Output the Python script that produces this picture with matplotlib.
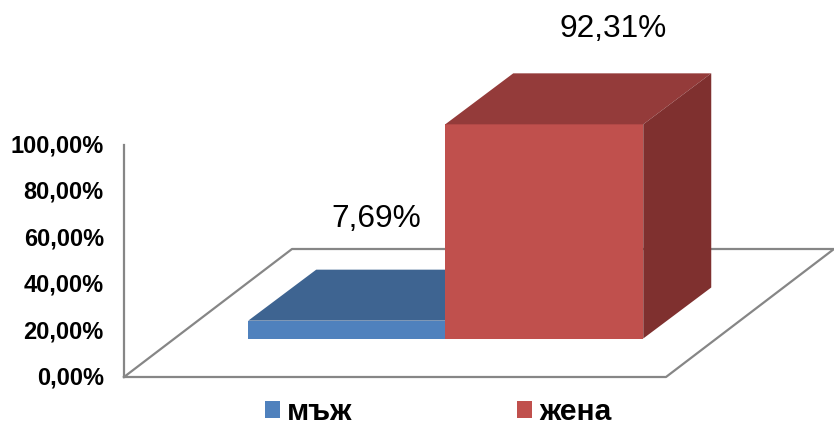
import matplotlib
matplotlib.use('Agg')
import matplotlib.pyplot as plt
from matplotlib.patches import Polygon
from matplotlib.ticker import FuncFormatter
from matplotlib.transforms import Affine2D, ScaledTranslation

# Data
categories = ['мъж', 'жена']
percent = [7.69, 92.31]
y_ticks = [0, 20, 40, 60, 80, 100]

# Colours: front, top, side
front_colors = ['#4F81BD', '#C0504D']
top_colors = ['#3E6491', '#943B3A']
side_colors = ['#2F4C6F', '#7F302F']
grey = '#868686'

W, H = 834, 423
plt.rcParams['font.family'] = ['Liberation Sans', 'DejaVu Sans']

fig = plt.figure(figsize=(W / 100, H / 100), dpi=100)
# front plane of the value axis, in pixels from the picture
ax = fig.add_axes([124 / W, (H - 377) / H, 542 / W, 232 / H])
ax.set_xlim(-1.133, 1.618)
ax.set_ylim(0, 100)
ax.patch.set_alpha(0)

def fmt(v):
    return f'{v:.2f}%'.replace('.', ',')

# oblique offsets, pixels
bar_trans = ax.transData + Affine2D().translate(0, 38.5)
depth = (68, 51)
floor_depth = (168, 128)

# floor outline
front_left = ax.transAxes.transform((0, 0))
front_right = ax.transAxes.transform((1, 0))
back_left = front_left + floor_depth
back_right = front_right + floor_depth
floor_pts = [front_left, back_left, back_right, front_right, front_left]
fig.add_artist(plt.Line2D([p[0] for p in floor_pts], [p[1] for p in floor_pts],
                          transform=None, color=grey, lw=1.6, zorder=0))

# bars with their top and side faces
bar_width = 1.005
bars = []
for i, (name, v) in enumerate(zip(categories, percent)):
    bar = ax.bar(i, v, width=bar_width, color=front_colors[i], label=name,
                 transform=bar_trans, clip_on=False, zorder=2 + i)[0]
    bars.append(bar)
    x0, x1 = i - bar_width / 2, i + bar_width / 2
    depth_trans = bar_trans + Affine2D().translate(depth[0], depth[1])
    # top face
    a = bar_trans.transform([(x0, v), (x1, v)])
    b = depth_trans.transform([(x1, v), (x0, v)])
    ax.add_patch(Polygon([a[0], a[1], b[0], b[1]], closed=True, transform=None,
                         facecolor=top_colors[i], edgecolor='none', clip_on=False, zorder=2 + i))
    # side face
    c = bar_trans.transform([(x1, 0), (x1, v)])
    d = depth_trans.transform([(x1, v), (x1, 0)])
    ax.add_patch(Polygon([c[0], c[1], d[0], d[1]], closed=True, transform=None,
                         facecolor=side_colors[i], edgecolor='none', clip_on=False, zorder=2 + i))

# value axis
for s in ['top', 'right', 'bottom']:
    ax.spines[s].set_visible(False)
ax.spines['left'].set_color(grey)
ax.spines['left'].set_linewidth(1.6)
ax.set_xticks([])
ax.set_yticks(y_ticks)
ax.yaxis.set_major_formatter(FuncFormatter(lambda v, _: fmt(v)))
ax.tick_params(axis='y', length=0, pad=14.5, labelsize=17)
label_up = ScaledTranslation(0, 1.5 / 100, fig.dpi_scale_trans)
for t in ax.get_yticklabels():
    t.set_fontweight('bold')
    t.set_transform(t.get_transform() + label_up)

# data labels
label_xy = [(376, 219), (613, 29)]
for v, (px, py) in zip(percent, label_xy):
    fig.text(px / W, 1 - py / H, fmt(v), fontsize=22.8, ha='center', va='center', color='black')

# legend
leg = fig.legend(handles=bars, labels=categories, ncol=2, frameon=False,
                 loc='center', bbox_to_anchor=(438 / W, 1 - 412 / H),
                 prop={'weight': 'bold', 'size': 21.6}, handlelength=0.5, handleheight=0.5,
                 handletextpad=0.23, columnspacing=5.5, borderpad=0, borderaxespad=0)

fig.savefig('out.png', dpi=100)
